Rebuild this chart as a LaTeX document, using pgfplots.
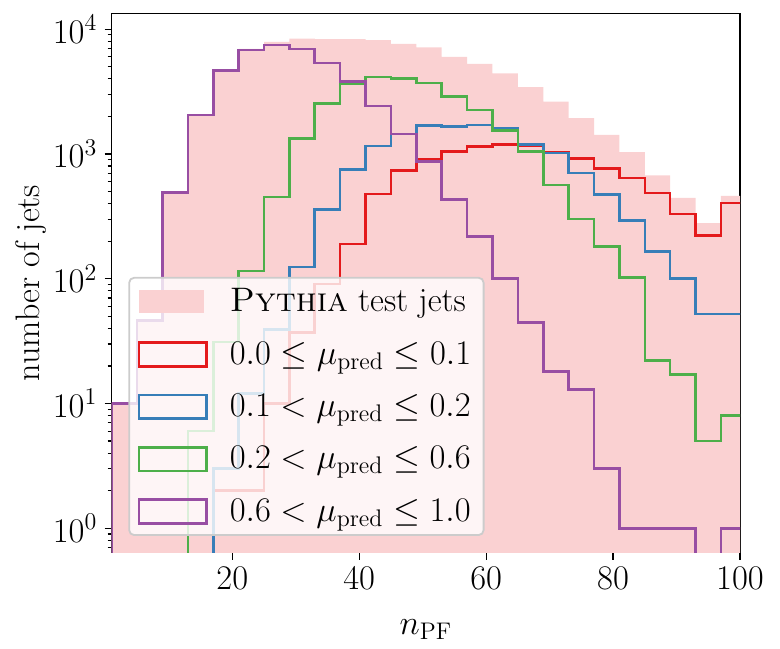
\documentclass[border=0pt]{standalone}
\usepackage{pgfplots}
\pgfplotsset{compat=1.18}
\definecolor{cred}{HTML}{E41A1C}
\definecolor{cblue}{HTML}{377EB8}
\definecolor{cgreen}{HTML}{4DAF4A}
\definecolor{cpurple}{HTML}{984EA3}
\definecolor{cpink}{RGB}{250,209,210}
\begin{document}
\begin{tikzpicture}
\path[use as bounding box] (-55.85pt,-47.65pt) rectangle (334.15pt,276.35pt);
\begin{axis}[
  scale only axis, width=314.15pt, height=269.7pt,
  at={(0,0)}, anchor=south west,
  ymode=log, xmin=1, xmax=100, ymin=0.637, ymax=13400,
  xtick={20,40,60,80,100},
  tick align=outside, xtick pos=bottom, ytick pos=left,
  major tick length=3.5pt, minor tick length=2pt,
  every tick/.style={black, line width=0.6pt},
  axis line style={line width=0.7pt},
  font=\fontsize{17}{20}\selectfont,
  every tick label/.append style={inner sep=3.5pt},
  xlabel={$n_{\mathrm{PF}}$}, ylabel={number of jets},
  xlabel style={yshift=-8pt},
  ylabel style={yshift=-4pt},
  legend style={at={(0.0264,0.031)}, anchor=south west, fill=white,
    fill opacity=0.8, draw opacity=1, text opacity=1, draw=black!20,
    line width=0.9pt, rounded corners=2.5pt, inner xsep=4.2pt, inner ysep=3.5pt,
    row sep=9.5pt, /tikz/every odd column/.append style={column sep=9pt}},
  legend cell align=left,
]
\addplot[draw=none, fill=cpink, const plot mark left,
  legend image code/.code={\fill[cpink, fill opacity=1, sharp corners] (0pt,-5.7pt) rectangle (32.8pt,5.7pt);}]
coordinates {(1,0.01) (1,10) (5,46) (9,493) (13,2056) (17,4676) (21,6960) (25,7900) (29,8400) (33,8300) (37,8300) (41,8150) (45,7620) (49,7150) (53,6000) (57,5280) (61,4425) (65,3425) (69,2625) (73,1935) (77,1420) (81,1035) (85,673) (89,445) (93,279) (97,461) (101,461) (101,0.01)};
\addlegendentry{\textsc{Pythia} test jets}
\addplot[cred, line width=1.3pt, const plot mark left,
  legend image code/.code={\draw[cred, line width=1.3pt, draw opacity=1, sharp corners] (0pt,-5.95pt) rectangle (33.8pt,5.95pt);}]
coordinates {(17,0.01) (17,2) (21,2) (25,10) (29,37) (33,91) (37,190) (41,479) (45,735) (49,912) (53,1043) (57,1143) (61,1194) (65,1165) (69,1030) (73,922) (77,767) (81,643) (85,488) (89,331) (93,222) (97,403) (101,403) (101,0.01)};
\addlegendentry{$0.0 \leq \mu_{\mathrm{pred}} \leq 0.1$}
\addplot[cblue, line width=1.3pt, const plot mark left,
  legend image code/.code={\draw[cblue, line width=1.3pt, draw opacity=1, sharp corners] (0pt,-5.95pt) rectangle (33.8pt,5.95pt);}]
coordinates {(17,0.01) (17,3) (21,12) (25,39) (29,124) (33,358) (37,749) (41,1159) (45,1445) (49,1693) (53,1653) (57,1700) (61,1603) (65,1187) (69,1018) (73,705) (77,472) (81,293) (85,166) (89,100) (93,52) (97,52) (101,52) (101,0.01)};
\addlegendentry{$0.1 < \mu_{\mathrm{pred}} \leq 0.2$}
\addplot[cgreen, line width=1.3pt, const plot mark left,
  legend image code/.code={\draw[cgreen, line width=1.3pt, draw opacity=1, sharp corners] (0pt,-5.95pt) rectangle (33.8pt,5.95pt);}]
coordinates {(13,0.01) (13,6) (17,31) (21,115) (25,450) (29,1333) (33,2540) (37,3630) (41,4150) (45,4025) (49,3700) (53,2870) (57,2250) (61,1535) (65,1043) (69,565) (73,302) (77,181) (81,102) (85,22) (89,17) (93,5) (97,8) (101,8) (101,0.01)};
\addlegendentry{$0.2 < \mu_{\mathrm{pred}} \leq 0.6$}
\addplot[cpurple, line width=1.3pt, const plot mark left,
  legend image code/.code={\draw[cpurple, line width=1.3pt, draw opacity=1, sharp corners] (0pt,-5.95pt) rectangle (33.8pt,5.95pt);}]
coordinates {(1,0.01) (1,10) (5,46) (9,493) (13,2050) (17,4640) (21,6830) (25,7480) (29,6920) (33,5350) (37,3790) (41,2420) (45,1445) (49,868) (53,431) (57,218) (61,100) (65,44.5) (69,18) (73,13) (77,3) (81,1) (85,1) (89,1) (93,0.01) (97,1) (101,1) (101,0.01)};
\addlegendentry{$0.6 < \mu_{\mathrm{pred}} \leq 1.0$}
\end{axis}
\end{tikzpicture}
\end{document}
